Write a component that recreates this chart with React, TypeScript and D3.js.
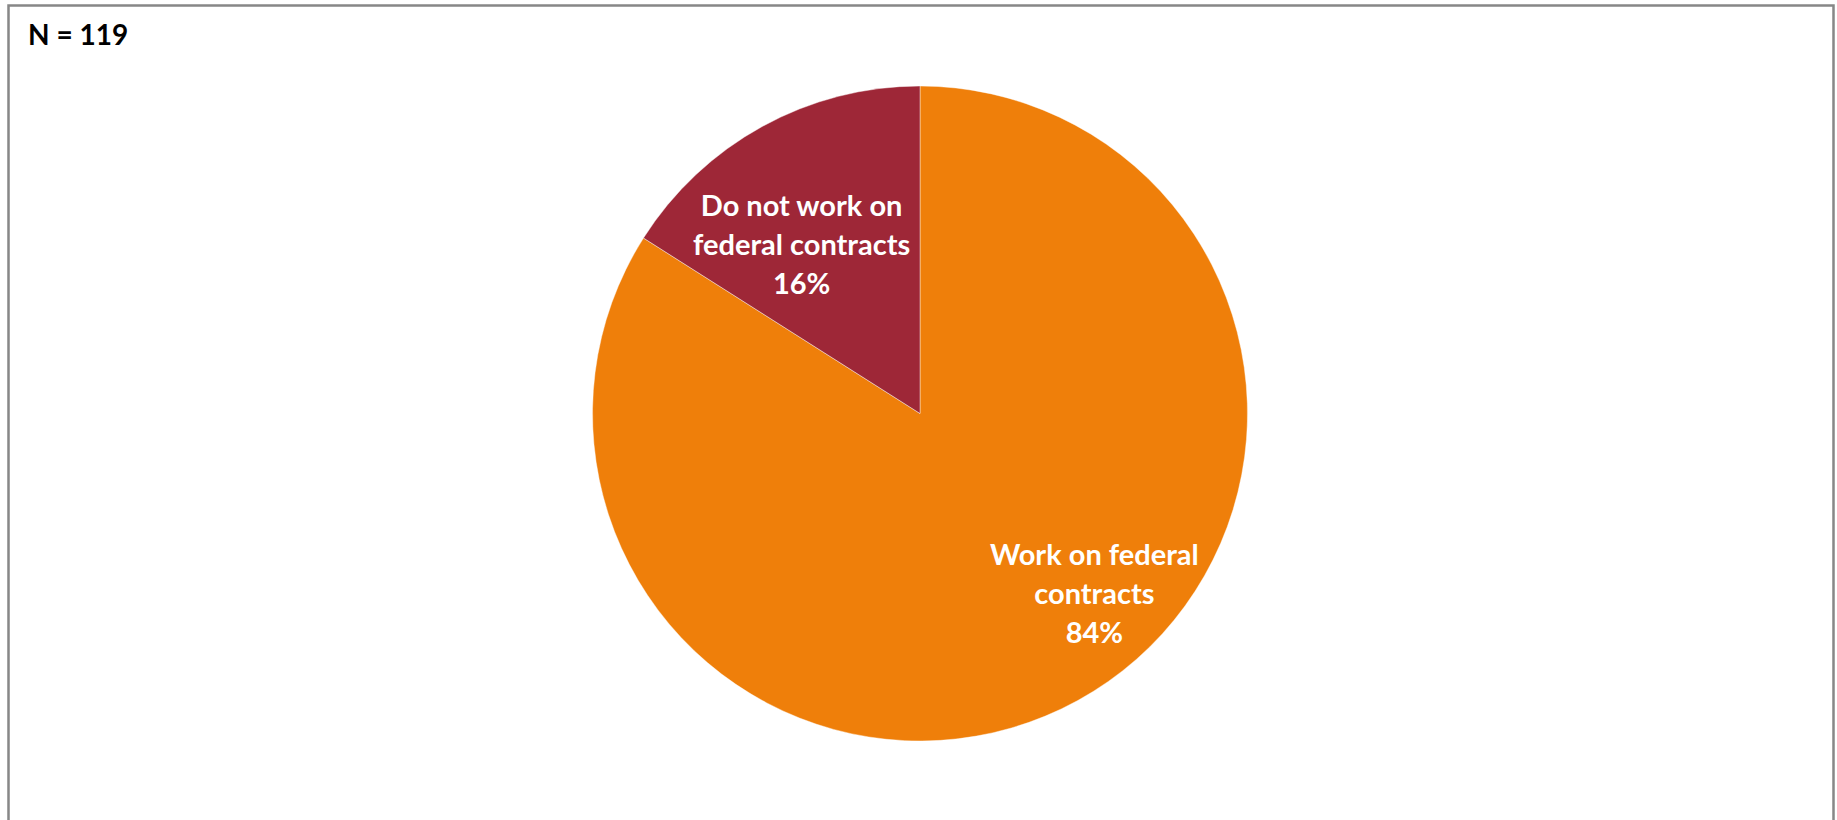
import React from "react";
import * as d3 from "d3";

const categories = ["Work on federal contracts", "Do not work on federal contracts"];
const values = [84, 16];
const labelLines = [
  ["Work on federal", "contracts", "84%"],
  ["Do not work on", "federal contracts", "16%"],
];
const colors = ["#EF7F0A", "#9E2737"];
const sampleNote = "N = 119";

const W = 1837;
const H = 820;
const cx = 920;
const cy = 413.5;
const R = 327.5;

export default function App() {
  const pie = d3.pie<number>().sort(null).value((d) => d)(values);
  const arc = d3.arc<d3.PieArcDatum<number>>().innerRadius(0).outerRadius(R);
  const labelArc = d3.arc<d3.PieArcDatum<number>>().innerRadius(R * 0.63).outerRadius(R * 0.63);
  const labelOffsets = [
    [75, 1],
    [-19, 13],
  ];
  const lh = 39;
  return (
    <svg
      width={W}
      height={H}
      style={{ position: "absolute", left: 0, top: 0, background: "#fff" }}
      fontFamily="Lato, 'Open Sans', sans-serif"
    >
      <rect x={0} y={0} width={W} height={H} fill="#fff" />
      <path d={`M8.5,${H} V5.5 H1833.5 V${H}`} fill="none" stroke="#878787" strokeWidth={2.5} />
      <text x={28} y={45} fontSize={28} fontWeight="bold" fill="#000">
        {sampleNote}
      </text>
      <g transform={`translate(${cx},${cy})`}>
        {pie.map((p, i) => (
          <path key={categories[i]} d={arc(p) || ""} fill={colors[i]} stroke="#fff" strokeWidth={0.6} strokeOpacity={0.7} />
        ))}
      </g>
      {pie.map((p, i) => {
        const [lx, ly] = labelArc.centroid(p);
        const lines = labelLines[i];
        const x = cx + lx + labelOffsets[i][0];
        const y = cy + ly + labelOffsets[i][1] + 9;
        return (
          <text key={"l" + i} x={x} y={y} fill="#fff" fontSize={29} fontWeight="bold" textAnchor="middle">
            {lines.map((t, j) => (
              <tspan key={j} x={x} y={y + (j - 1) * lh}>
                {t}
              </tspan>
            ))}
          </text>
        );
      })}
    </svg>
  );
}
